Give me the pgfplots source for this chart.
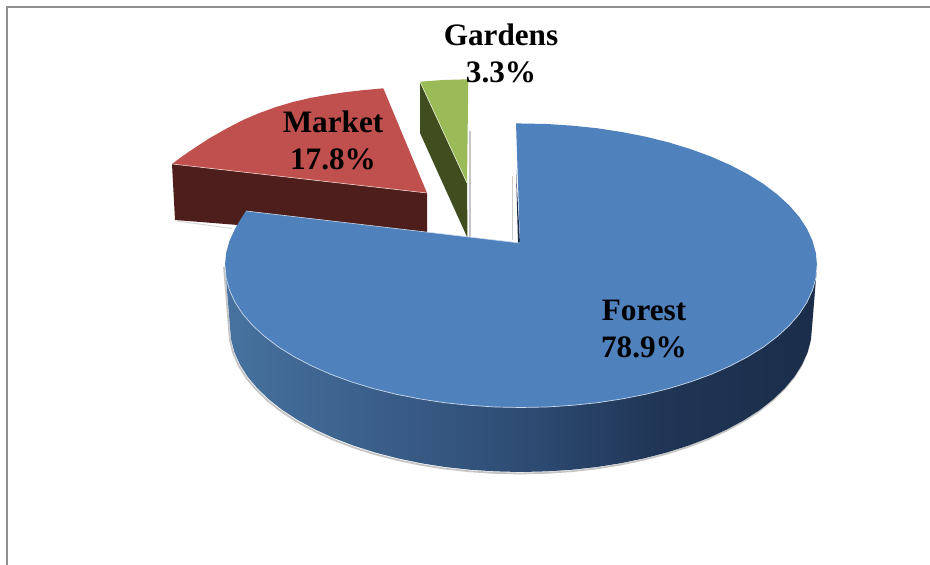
\documentclass[border=0pt]{standalone}
\usepackage{fontspec}
\setmainfont{Liberation Serif}
\usepackage{pgfplots}
\usepackage{pgfplotstable}
\pgfplotsset{compat=1.18}

\definecolor{forestTop}{HTML}{4F81BD}
\definecolor{forestA}{HTML}{47729F}
\definecolor{forestB}{HTML}{2E4C74}
\definecolor{forestD}{HTML}{203555}
\definecolor{forestC}{HTML}{1A2E4A}
\definecolor{marketTop}{HTML}{C0504D}
\definecolor{marketSide}{HTML}{4D1E1C}
\definecolor{gardenTop}{HTML}{9BBB59}
\definecolor{gardenSide}{HTML}{3F4D1F}
\definecolor{frameGray}{HTML}{8F8F8F}

% Left-to-right light falloff on the forest wall
\pgfdeclarehorizontalshading{forestwallshade}{100bp}{
  color(0bp)=(forestA); color(25bp)=(forestA); color(50bp)=(forestB);
  color(62bp)=(forestD); color(75bp)=(forestC); color(100bp)=(forestC)}

% Upper rim of the forest slice, clockwise from the cut at the top
\pgfplotstableread{
x y
516 123.5
521 123.5
546.8 124
572.4 125.7
597.6 128.3
622.2 132.1
646.1 136.8
669 142.5
690.8 149.2
711.3 156.7
730.3 165.1
747.7 174.2
763.5 184
777.3 194.5
789.3 205.5
799.2 216.9
806.9 228.7
812.5 240.8
815.9 253.1
817 265.5
815.9 277.9
812.5 290.2
806.9 302.3
799.2 314.1
789.3 325.5
777.3 336.5
763.5 347
747.7 356.8
730.3 365.9
711.3 374.3
690.8 381.8
669 388.5
646.1 394.2
622.2 398.9
597.6 402.7
572.4 405.3
546.8 407
521 407.5
495.2 407
469.6 405.3
444.4 402.7
419.8 398.9
395.9 394.2
373 388.5
351.2 381.8
330.7 374.3
311.7 365.9
294.3 356.8
278.5 347
264.7 336.5
252.7 325.5
242.8 314.1
235.1 302.3
229.5 290.2
226.1 277.9
225 265.5
226.1 253.1
229.5 240.8
235.1 228.7
240.5 219.5
246 211
520 243
}\forestrim

% Front rim only, for the light edge between the top and the wall
\pgfplotstableread{
x y
817 265.5
815.9 277.9
812.5 290.2
806.9 302.3
799.2 314.1
789.3 325.5
777.3 336.5
763.5 347
747.7 356.8
730.3 365.9
711.3 374.3
690.8 381.8
669 388.5
646.1 394.2
622.2 398.9
597.6 402.7
572.4 405.3
546.8 407
521 407.5
495.2 407
469.6 405.3
444.4 402.7
419.8 398.9
395.9 394.2
373 388.5
351.2 381.8
330.7 374.3
311.7 365.9
294.3 356.8
278.5 347
264.7 336.5
252.7 325.5
242.8 314.1
235.1 302.3
229.5 290.2
226.1 277.9
225 265.5
}\forestfront

% Lower edge of the forest wall
\pgfplotstableread{
x y
817 265.5
812 327
810.9 339.6
807.6 352.2
802.1 364.5
794.5 376.6
784.7 388.3
773 399.5
759.4 410.2
743.9 420.2
726.8 429.5
708.1 438.1
687.9 445.8
666.5 452.6
644 458.4
620.5 463.3
596.3 467.1
571.5 469.8
546.4 471.4
521 472
495.6 471.4
470.5 469.8
445.7 467.1
421.5 463.3
398 458.4
375.5 452.6
354.1 445.8
333.9 438.1
315.2 429.5
298.1 420.2
282.6 410.2
269 399.5
257.3 388.3
247.5 376.6
239.9 364.5
234.4 352.2
231.1 339.6
230 327
225 265.5
}\forestwall

\begin{document}
\begin{tikzpicture}
\begin{axis}[
  scale only axis, width=465pt, height=282.5pt,
  xmin=0, xmax=930, ymin=0, ymax=565, y dir=reverse,
  hide axis, clip=true,
]
% White page behind everything, spanning the full plot area
\addplot[draw=none, fill=white] coordinates {(0,0) (930,0) (930,565) (0,565)};

% Outer frame of the plot area
\addplot[draw=frameGray, line width=1.3pt] coordinates {(7,565) (7,7) (930,7)};

% Gardens slice
\addplot[draw=gray!45, line width=0.6pt] coordinates {(470,131) (470,237)};
\addplot[draw=none, fill=gardenSide] coordinates {(420,81.7) (467,183) (467.5,238) (420,133)};
\addplot[draw=none, fill=gardenTop] coordinates {(420,81.7) (443,80) (468.3,79.3) (467,183)};
\addplot[draw=white!75!gardenTop, line width=0.3pt] coordinates {(420,81.7) (467,183)};

% Market slice
\addplot[draw=gray!30, line width=0.5pt] coordinates {(177,221) (232,228.5)};
\addplot[draw=none, fill=marketSide] coordinates {(172,164) (427,193) (427,240) (175,220)};
\addplot[draw=none, fill=marketTop] coordinates {(172,164) (182,156.5) (193,149) (209,138.5) (226.7,128.5) (243,120) (260,112.8) (276,107) (293,102) (310,98) (326.7,95) (343,92.5) (360,90.5) (383.3,88.3) (427,193)};
\addplot[draw=white!70!marketTop, line width=0.3pt] coordinates {(172,164) (427,193)};

% Forest slice: soft shadow, wall, top
\addplot[draw=gray!45, line width=0.9pt] table[x expr=\thisrow{x}-1, y expr=\thisrow{y}+1.5] {\forestwall};
\addplot[draw=none, shade, shading=forestwallshade] table {\forestwall};
\addplot[draw=gray!40, line width=0.6pt] coordinates {(512.5,176) (512.5,240)};
\addplot[draw=none, fill=forestC] coordinates {(516,170) (520,243) (518,243)};
\addplot[draw=none, fill=forestTop] table {\forestrim};
\addplot[draw=white!70!forestTop, line width=0.35pt] table {\forestfront};
\addplot[draw=white!70!forestTop, line width=0.3pt] coordinates {(246,211) (520,243)};

% Category labels
\node[font=\fontsize{15.6}{18.5}\selectfont\bfseries, align=center, inner sep=0pt] at (axis cs:501,53.5) {Gardens\\3.3\%};
\node[font=\fontsize{15.6}{18.5}\selectfont\bfseries, align=center, inner sep=0pt] at (axis cs:333,140) {Market\\17.8\%};
\node[font=\fontsize{15.6}{18.5}\selectfont\bfseries, align=center, inner sep=0pt] at (axis cs:644,329) {Forest\\78.9\%};
\end{axis}
\end{tikzpicture}
\end{document}
